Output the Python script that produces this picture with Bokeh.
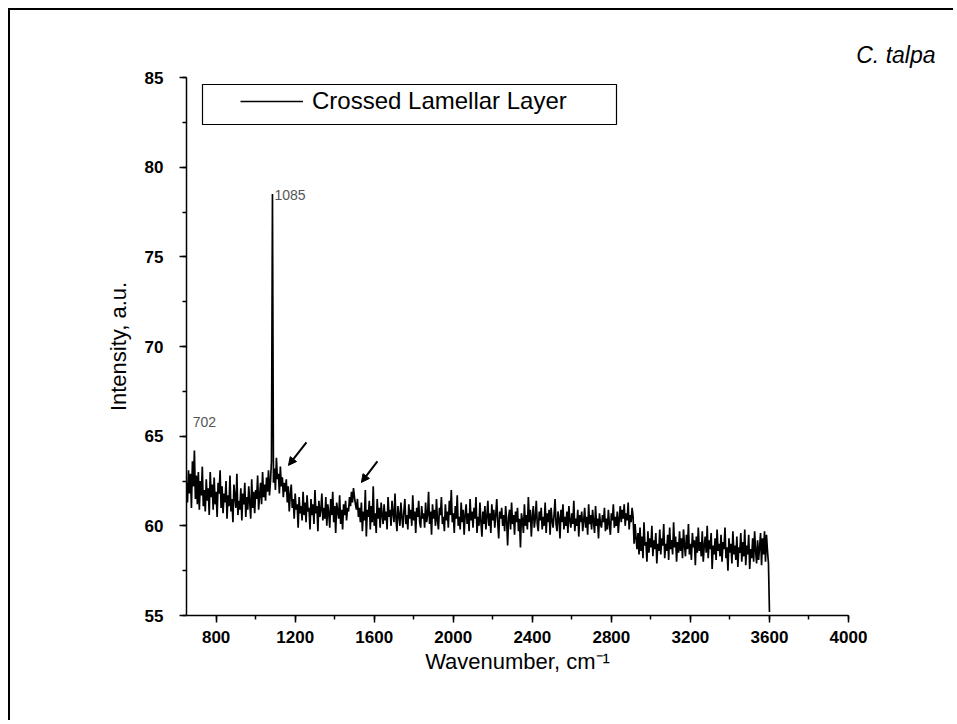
from bokeh.plotting import figure
from bokeh.embed import file_html
from bokeh.resources import INLINE
from bokeh.models import (Legend, LegendItem, BoxAnnotation, Label, Arrow, NormalHead,
                          SingleIntervalTicker, Range1d)
import numpy as np

# ---------------- data ----------------
wavenumber_start = 650
wavenumber_step = 5

intensity_650_1045 = [
    62.4, 61.3, 63.1, 61.8, 62.9, 61.0, 63.6, 62.2, 64.2, 61.5, 62.8, 61.2, 63.0, 60.9, 62.5, 61.7, 63.3, 61.1, 62.0, 60.8,
    62.6, 61.4, 62.1, 60.6, 63.0, 61.6, 62.3, 60.9, 62.7, 61.2, 61.9, 60.5, 62.4, 61.8, 63.1, 61.0, 62.2, 60.7, 61.8, 61.3,
    62.5, 60.4, 61.7, 61.1, 62.8, 60.8, 61.5, 60.2, 62.3, 61.6, 61.0, 62.9, 60.6, 61.4, 60.9, 62.1, 60.3, 61.8, 61.2, 62.4,
    60.5, 61.6, 60.9, 62.2, 61.3, 60.4, 62.6, 61.0, 61.9, 60.7, 62.0, 61.5, 62.8, 60.9, 61.7, 62.4, 61.2, 63.0, 61.6, 62.3,
]
intensity_1050_1545 = [
    61.4, 62.7, 61.9, 63.1, 61.7, 62.5, 63.6, 78.5, 62.4, 63.2, 62.0, 63.8, 62.6, 62.9, 61.8, 63.3, 62.2, 62.7, 61.6, 62.4,
    61.9, 62.6, 61.3, 62.2, 60.8, 61.7, 62.3, 61.0, 61.5, 60.4, 61.8, 60.9, 61.2, 59.9, 61.6, 60.7, 61.1, 60.3, 61.9, 60.6,
    61.3, 60.2, 61.7, 60.8, 61.0, 59.8, 61.5, 60.6, 61.2, 60.1, 62.0, 60.7, 61.1, 59.7, 61.4, 60.5, 60.9, 61.8, 60.3, 61.0,
    60.4, 61.6, 60.0, 61.2, 60.7, 59.9, 61.5, 60.6, 61.9, 60.2, 61.1, 59.6, 61.3, 60.8, 60.4, 61.7, 60.1, 60.9, 59.8, 61.2,
    60.6, 61.4, 60.3, 61.0, 60.8, 61.6, 61.1, 61.9, 61.3, 62.1, 61.6, 61.2, 60.9, 61.5, 60.5, 61.0, 60.2, 61.3, 59.7, 60.8,
]
intensity_1550_2045 = [
    60.3, 62.0, 59.4, 60.9, 60.5, 61.4, 59.8, 61.1, 60.2, 62.2, 60.0, 60.7, 59.6, 61.5, 60.4, 61.0, 59.9, 61.3, 60.6, 60.1,
    61.2, 60.3, 60.8, 59.8, 61.6, 60.5, 60.9, 60.0, 61.4, 60.7, 60.2, 61.8, 60.4, 59.7, 61.1, 60.6, 60.0, 61.3, 60.5, 59.9,
    60.8, 61.5, 60.1, 60.6, 59.8, 61.2, 60.4, 60.9, 60.0, 61.7, 60.3, 60.8, 59.6, 61.0, 60.5, 61.4, 60.2, 59.9, 61.1, 60.4,
    60.7, 59.9, 61.3, 60.2, 60.6, 61.9, 60.1, 60.8, 59.5, 61.2, 60.4, 60.9, 60.0, 61.5, 60.3, 59.8, 61.0, 60.6, 61.6, 60.1,
    60.5, 59.7, 61.2, 60.3, 60.8, 59.9, 61.4, 60.6, 62.0, 60.2, 60.7, 59.6, 61.1, 60.4, 61.7, 60.0, 60.5, 59.8, 61.3, 60.2,
]
intensity_2050_2545 = [
    60.9, 59.5, 60.6, 61.2, 60.1, 60.7, 59.7, 61.5, 60.3, 60.8, 59.9, 61.0, 60.4, 61.6, 59.6, 60.5, 60.0, 61.3, 60.2, 59.4,
    60.8, 60.1, 61.1, 59.8, 60.5, 61.4, 60.0, 60.7, 59.6, 61.2, 60.3, 60.9, 59.9, 60.6, 61.5, 60.2, 59.3, 60.8, 60.4, 61.0,
    60.0, 60.6, 59.7, 61.1, 60.3, 58.9, 60.5, 60.9, 59.8, 61.3, 60.1, 60.6, 59.5, 60.8, 60.2, 61.0, 59.7, 60.4, 58.8, 60.7,
    60.3, 59.6, 61.2, 60.0, 60.6, 59.8, 61.6, 60.2, 60.9, 59.4, 60.5, 61.1, 59.9, 60.4, 61.4, 60.1, 59.7, 60.8, 60.3, 61.0,
    59.8, 60.5, 60.0, 61.3, 59.6, 60.7, 60.2, 60.9, 59.5, 61.0, 60.3, 59.9, 60.6, 61.5, 60.1, 59.7, 60.8, 60.4, 59.3, 60.9,
]
intensity_2550_3045 = [
    60.2, 61.2, 59.8, 60.5, 60.0, 60.8, 59.6, 61.1, 60.3, 59.9, 60.7, 60.1, 61.4, 59.7, 60.4, 60.0, 60.9, 59.4, 60.6, 60.2,
    60.8, 59.7, 60.3, 61.0, 59.9, 60.5, 59.5, 61.2, 60.1, 60.6, 59.8, 60.9, 60.2, 59.6, 61.1, 60.0, 60.4, 59.3, 60.7, 60.1,
    59.9, 60.6, 60.2, 61.0, 59.7, 60.4, 59.8, 60.9, 60.1, 59.5, 60.7, 60.3, 61.2, 59.9, 60.5, 60.0, 60.8, 59.6, 60.4, 61.1,
    60.2, 60.9, 60.4, 61.2, 60.0, 60.7, 60.3, 61.3, 59.8, 60.6, 60.2, 61.0, 60.5, 59.0, 60.1, 59.3, 58.7, 59.6, 58.4, 59.9,
    58.6, 59.4, 58.2, 60.2, 58.9, 59.1, 58.0, 59.7, 58.5, 59.3, 58.8, 60.0, 58.3, 59.2, 58.7, 59.6, 57.9, 59.0, 58.6, 59.8,
]
intensity_3050_3600 = [
    58.4, 59.3, 58.9, 60.1, 58.2, 59.0, 58.6, 59.5, 58.1, 59.9, 58.7, 59.2, 58.4, 60.2, 58.8, 59.4, 58.0, 59.1, 58.5, 59.7,
    58.6, 59.3, 58.2, 59.8, 58.9, 58.3, 59.5, 58.7, 60.1, 58.4, 59.0, 58.1, 59.6, 58.8, 59.2, 57.8, 59.4, 58.5, 59.9, 58.6,
    59.1, 58.3, 59.7, 58.0, 58.9, 59.4, 58.5, 60.0, 58.2, 59.2, 58.7, 59.6, 57.6, 58.9, 58.4, 59.3, 58.1, 59.8, 58.6, 59.0,
    58.3, 59.5, 58.0, 59.1, 58.7, 59.9, 58.2, 58.8, 57.5, 59.3, 58.5, 59.0, 57.9, 59.7, 58.4, 58.9, 58.1, 59.4, 57.7, 58.8,
    58.5, 59.6, 58.0, 59.1, 58.3, 59.8, 57.8, 58.9, 58.4, 59.5, 57.6, 58.7, 58.2, 59.3, 58.0, 59.7, 58.6, 57.9, 59.2, 58.1,
    58.8, 59.6, 57.8, 59.3, 58.4, 59.7, 58.0, 59.5, 58.6, 57.9, 55.2,
]

peak_labels = ["1085", "702"]
peak_x = [1085, 702]
peak_y = [78.5, 64.2]

# arrows marking shoulders (wavenumber, intensity)
arrow_x_start = [1257, 1616]
arrow_y_start = [64.65, 63.6]
arrow_x_end = [1166, 1535]
arrow_y_end = [63.37, 62.42]

series_name = "Crossed Lamellar Layer"
species = "C. talpa"

intensity = (intensity_650_1045 + intensity_1050_1545 + intensity_1550_2045 +
             intensity_2050_2545 + intensity_2550_3045 + intensity_3050_3600)
wavenumber = wavenumber_start + wavenumber_step * np.arange(len(intensity))

# ---------------- figure ----------------
FONT = "Liberation Sans"

p = figure(width=945, height=712, output_backend="svg", toolbar_location=None,
           x_range=Range1d(650, 4000), y_range=Range1d(55, 85),
           min_border_left=176, min_border_right=107, min_border_top=67, min_border_bottom=107,
           title=species)
p.styles = {"border-top": "2px solid black", "border-left": "2px solid black",
            "margin-left": "8px", "margin-top": "8px"}

p.title.align = "right"
p.title.offset = -87
p.title.text_font = FONT
p.title.text_font_style = "italic"
p.title.text_font_size = "23px"
p.title.text_color = "black"
p.title.standoff = 20

p.outline_line_color = None
p.grid.visible = False
p.background_fill_color = "white"
p.border_fill_color = "white"

r = p.line(wavenumber, intensity, line_color="black", line_width=1.7)

# axes
p.xaxis.ticker = SingleIntervalTicker(interval=400, num_minor_ticks=2)
p.yaxis.ticker = SingleIntervalTicker(interval=5, num_minor_ticks=2)
for ax in (p.xaxis[0], p.yaxis[0]):
    ax.axis_line_color = "black"
    ax.axis_line_width = 1.5
    ax.major_tick_line_color = "black"
    ax.minor_tick_line_color = "black"
    ax.major_tick_line_width = 1.5
    ax.minor_tick_line_width = 1.5
    ax.major_tick_out = 7
    ax.major_tick_in = 0
    ax.minor_tick_out = 4
    ax.minor_tick_in = 0
    ax.major_label_text_font = FONT
    ax.major_label_text_font_style = "bold"
    ax.major_label_text_font_size = "17px"
    ax.major_label_text_color = "black"
    ax.axis_label_text_font = FONT
    ax.axis_label_text_font_style = "normal"
    ax.axis_label_text_font_size = "22px"
    ax.axis_label_text_color = "black"

p.xaxis.axis_label = "Wavenumber, cm\u207b\u00b9"
p.yaxis.axis_label = "Intensity, a.u."
p.xaxis.major_label_standoff = 8
p.yaxis.major_label_standoff = 16
p.xaxis.axis_label_standoff = 3
p.yaxis.axis_label_standoff = 11

# legend
legend = Legend(items=[LegendItem(label=series_name, renderers=[r])],
                location=(54, 500), padding=0, margin=0,
                glyph_width=63, glyph_height=22, label_standoff=9,
                label_text_font=FONT, label_text_font_size="24px",
                label_text_color="black",
                border_line_color=None, background_fill_alpha=0)
p.add_layout(legend, "center")
p.add_layout(BoxAnnotation(left=190, right=604, top=72, bottom=112,
                           left_units="canvas", right_units="canvas",
                           top_units="canvas", bottom_units="canvas",
                           fill_alpha=0, line_color="black", line_alpha=1.0, line_width=1.2))

# peak labels
p.add_layout(Label(x=peak_x[0], y=peak_y[0], text=peak_labels[0], x_offset=2, y_offset=-1,
                   text_baseline="middle", text_font=FONT, text_font_size="14px",
                   text_color="#555555"))
p.add_layout(Label(x=peak_x[1], y=peak_y[1], text=peak_labels[1], x_offset=-4, y_offset=29,
                   text_baseline="middle", text_font=FONT, text_font_size="14px",
                   text_color="#555555"))

# arrows
for xs, ys, xe, ye in zip(arrow_x_start, arrow_y_start, arrow_x_end, arrow_y_end):
    p.add_layout(Arrow(end=NormalHead(size=8, fill_color="black", line_color="black"),
                       x_start=xs, y_start=ys, x_end=xe, y_end=ye,
                       line_color="black", line_width=2))

open("out.html", "w").write(file_html(p, INLINE))
